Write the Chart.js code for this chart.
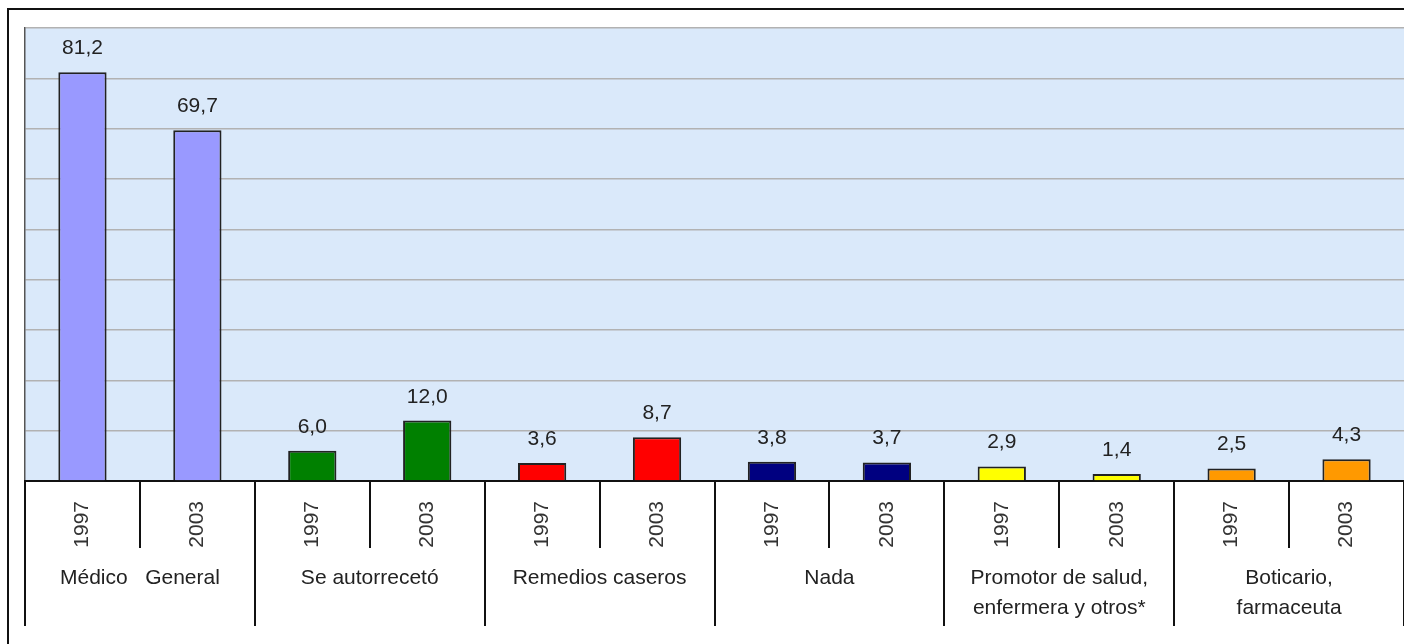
<!DOCTYPE html>
<html>
<head>
<meta charset="utf-8">
<script src="https://cdn.jsdelivr.net/npm/chart.js@4/dist/chart.umd.min.js"></script>
<style>
  html, body { margin: 0; padding: 0; background: #fff; overflow: hidden; }
  #wrap { position: relative; width: 1404px; height: 644px; }
  #frame { position: absolute; left: 7px; top: 8px; width: 1430px; height: 700px;
           border: 2px solid #111; pointer-events: none; box-sizing: border-box; }
</style>
</head>
<body>
<div id="wrap">
  <canvas id="c" width="1404" height="644"></canvas>
  <div id="frame"></div>
</div>
<script>
// ---- data ----
const years = ["1997", "2003", "1997", "2003", "1997", "2003", "1997", "2003", "1997", "2003", "1997", "2003"];
const groups = [
  "Médico   General",
  "Se autorrecetó",
  "Remedios caseros",
  "Nada",
  ["Promotor de salud,", "enfermera y otros*"],
  ["Boticario,", "farmaceuta"]
];
const values = [81.2, 69.7, 6.0, 12.0, 3.6, 8.7, 3.8, 3.7, 2.9, 1.4, 2.5, 4.3];
const barColors = ["#9999ff", "#9999ff", "#008000", "#008000", "#ff0000", "#ff0000",
                   "#000080", "#000080", "#ffff00", "#ffff00", "#ff9900", "#ff9900"];
const yMax = 90;
const yStep = 10;

const FONT = "'Liberation Sans', Arial, sans-serif";

const bgPlugin = {
  id: 'bg',
  beforeDraw(chart) {
    const { ctx, chartArea: a } = chart;
    ctx.save();
    ctx.fillStyle = '#dae9fa';
    ctx.fillRect(a.left, a.top, a.right - a.left, a.bottom - a.top);
    ctx.restore();
  }
};

const valueLabels = {
  id: 'valueLabels',
  afterDatasetsDraw(chart) {
    const { ctx } = chart;
    const meta = chart.getDatasetMeta(0);
    ctx.save();
    ctx.font = '21px ' + FONT;
    ctx.fillStyle = '#222';
    ctx.textAlign = 'center';
    ctx.textBaseline = 'alphabetic';
    meta.data.forEach((bar, i) => {
      const txt = values[i].toFixed(1).replace('.', ',');
      ctx.fillText(txt, bar.x, bar.y - 18);
    });
    ctx.restore();
  }
};

new Chart(document.getElementById('c'), {
  type: 'bar',
  data: {
    labels: years,
    datasets: [{
      data: values,
      backgroundColor: barColors,
      borderColor: '#222',
      borderWidth: 2,
      borderSkipped: 'bottom',
      barPercentage: 0.42,
      categoryPercentage: 1.0,
      xAxisID: 'x',
      yAxisID: 'y'
    }]
  },
  options: {
    responsive: false,
    animation: false,
    devicePixelRatio: 1,
    layout: { padding: { top: 28, left: 0, right: 0, bottom: 0 } },
    plugins: { legend: { display: false }, tooltip: { enabled: false } },
    scales: {
      y: {
        min: 0, max: yMax,
        ticks: { display: false, stepSize: yStep },
        grid: { color: '#b2b2b2', lineWidth: 1.5, drawTicks: false },
        border: { display: true, color: '#555', width: 1.5 },
        afterFit(s) { s.width = 25; }
      },
      x: {
        type: 'category',
        position: 'bottom',
        weight: 0,
        offset: true,
        grid: { offset: true, drawOnChartArea: false, drawTicks: true, tickLength: 67,
                color: '#111', lineWidth: 2 },
        border: { display: true, color: '#111', width: 2 },
        ticks: { minRotation: 90, maxRotation: 90, autoSkip: false, padding: -47,
                 color: '#333', font: { family: FONT, size: 21 } },
        afterFit(s) { s.height = 67; }
      },
      x2: {
        type: 'category',
        labels: groups,
        position: 'bottom',
        weight: 1,
        offset: true,
        grid: { offset: true, drawOnChartArea: false, drawTicks: true, tickLength: 78,
                color: '#111', lineWidth: 2 },
        border: { display: false },
        ticks: { autoSkip: false, maxRotation: 0, minRotation: 0, padding: -63,
                 color: '#222', font: { family: FONT, size: 21, lineHeight: 1.45 } },
        afterFit(s) { s.height = 96; }
      }
    }
  },
  plugins: [bgPlugin, valueLabels]
});
</script>
</body>
</html>
